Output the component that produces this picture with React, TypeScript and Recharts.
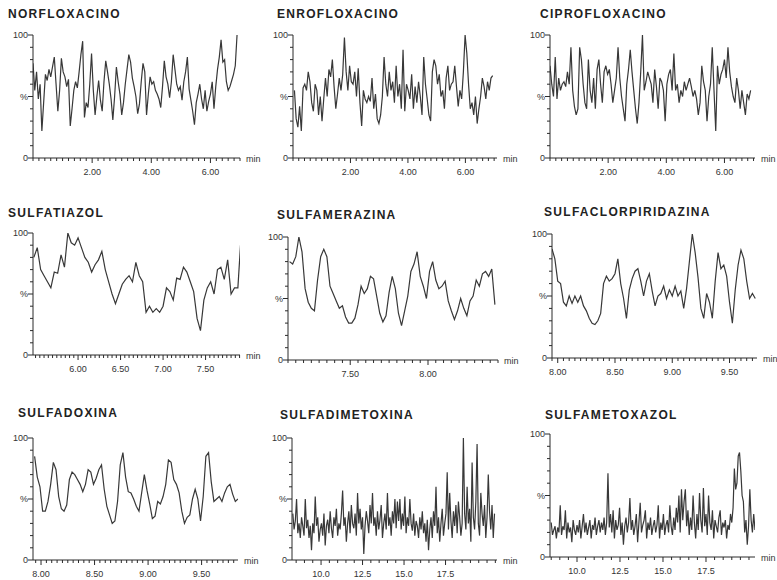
import React from 'react';
import { LineChart, Line, XAxis, YAxis } from 'recharts';

// ---------- data (relative intensity, %) ----------
const norfloxacino = [
  77, 55, 70, 48, 60, 22, 45, 68, 63, 72,
  66, 74, 82, 60, 38, 55, 81, 70, 66, 58,
  64, 26, 40, 55, 62, 57, 70, 84, 95, 33,
  45, 41, 60, 85, 55, 35, 50, 63, 47, 38,
  62, 79, 70, 60, 48, 31, 50, 74, 62, 52,
  35, 45, 60, 72, 84, 78, 65, 58, 50, 36,
  44, 62, 77, 70, 35, 52, 66, 60, 62, 55,
  52, 48, 41, 58, 79, 66, 60, 49, 62, 84,
  72, 60, 55, 58, 47, 62, 70, 82, 56, 47,
  38, 27, 45, 52, 60, 48, 40, 55, 38, 46,
  52, 62, 40, 58, 72, 82, 96, 78, 80, 62,
  55, 58, 63, 68, 75, 100,
];
const enrofloxacino = [
  55, 32, 25, 42, 22, 57, 60, 55, 70, 62,
  45, 38, 60, 55, 35, 50, 30, 48, 65, 50,
  72, 66, 80, 58, 40, 52, 65, 55, 68, 98,
  70, 55, 75, 62, 60, 70, 50, 73, 45, 26,
  55, 48, 45, 50, 46, 65, 40, 52, 32, 28,
  35, 50, 82, 60, 50, 70, 55, 62, 45, 75,
  50, 60, 40, 88, 38, 60, 55, 48, 68, 40,
  58, 45, 62, 50, 35, 82, 60, 48, 35, 30,
  70, 80, 75, 60, 68, 50, 55, 40, 65, 75,
  55, 60, 62, 75, 58, 42, 55, 48, 70, 100,
  85, 60, 40, 45, 35, 50, 28, 40, 50, 65,
  58, 48, 62, 55, 65, 67,
];
const ciprofloxacino = [
  75, 60, 50, 82, 48, 65, 55, 60, 62, 58,
  70, 60, 90, 55, 42, 35, 40, 90, 80, 60,
  45, 40, 80, 55, 45, 65, 40, 72, 80, 60,
  45, 70, 75, 68, 72, 60, 45, 55, 65, 90,
  65, 50, 40, 30, 60, 72, 88, 70, 55, 40,
  28, 45, 70, 100, 55, 62, 70, 65, 60, 45,
  72, 58, 40, 65, 62, 55, 30, 60, 68, 72,
  55, 85, 55, 60, 45, 55, 50, 62, 55, 60,
  65, 58, 50, 55, 48, 35, 45, 75, 62, 55,
  30, 50, 60, 90, 55, 22, 75, 60, 68, 72,
  80, 65, 90, 70, 58, 50, 45, 65, 55, 40,
  55, 45, 35, 52, 48, 55,
];
const sulfatiazol = [
  80, 88, 70, 65, 60, 55, 68, 67, 82, 72,
  100, 92, 90, 96, 88, 80, 76, 68, 74, 78,
  85, 70, 60, 50, 42, 50, 58, 62, 65, 60,
  76, 65, 60, 35, 40, 35, 38, 35, 40, 55,
  52, 45, 63, 62, 72, 68, 60, 52, 30, 20,
  45, 55, 60, 50, 70, 72, 62, 78, 50, 55,
  55, 100,
];
const sulfamerazina = [
  80, 78, 84, 100, 88, 58, 47, 42, 40, 65,
  84, 90, 84, 60, 54, 48, 42, 44, 35, 30,
  30, 34, 45, 60, 54, 58, 68, 66, 52, 38,
  31, 36, 55, 68, 58, 38, 28, 40, 52, 72,
  78, 88, 68, 60, 50, 72, 80, 65, 58, 60,
  64, 48, 40, 33, 40, 50, 42, 36, 48, 52,
  65, 60, 70, 72, 68, 74, 45,
];
const sulfaclorpiridazina = [
  88, 80, 62, 60, 45, 42, 50, 44, 50, 45,
  50, 42, 38, 32, 28, 27, 30, 36, 60, 66,
  62, 64, 68, 80, 60, 48, 32, 55, 64, 70,
  72, 62, 50, 62, 68, 54, 42, 50, 52, 58,
  48, 55, 50, 58, 50, 54, 40, 56, 78, 100,
  85, 65, 40, 32, 52, 45, 32, 62, 85, 72,
  75, 66, 45, 28, 55, 75, 87, 80, 62, 48,
  52, 48,
];
const sulfadoxina = [
  85, 68, 60, 40, 40, 48, 62, 80, 74, 52,
  42, 40, 45, 66, 72, 70, 66, 62, 56, 62,
  74, 72, 62, 67, 74, 78, 58, 44, 37, 30,
  32, 48, 78, 88, 68, 56, 55, 50, 44, 40,
  55, 70, 57, 46, 34, 36, 48, 46, 52, 62,
  82, 80, 66, 62, 55, 40, 30, 35, 37, 50,
  58, 50, 32, 52, 85, 88, 64, 48, 50, 52,
  48, 55, 60, 62, 54, 48, 50,
];
const sulfadimetoxina = [
  38, 25, 32, 50, 22, 30, 18, 35, 28, 20,
  50, 26, 33, 18, 28, 8, 30, 22, 52, 28,
  35, 15, 25, 30, 20, 38, 12, 28, 33, 22,
  40, 26, 18, 35, 28, 42, 20, 30, 25, 38,
  57, 28, 35, 15, 30, 40, 22, 45, 30, 26,
  38, 20, 55, 30, 42, 25, 35, 5, 28, 40,
  32, 22, 45, 30, 55, 28, 35, 20, 40, 25,
  33, 45, 18, 30, 38, 25, 55, 28, 35, 20,
  40, 30, 50, 26, 48, 32, 50, 25, 38, 28,
  52, 22, 35, 28, 50, 30, 24, 38, 20, 32,
  28, 18, 35, 25, 40, 22, 30, 15, 33, 8,
  25, 35, 18, 40, 28, 60, 22, 35, 15, 30,
  42, 20, 30, 38, 72, 25, 55, 32, 18, 40,
  28, 45, 22, 48, 35, 20, 30, 100, 38, 25,
  60, 30, 42, 15, 80, 35, 25, 48, 95, 30,
  20, 55, 38, 28, 45, 18, 35, 70, 40, 25,
  45, 18, 38,
];
const sulfametoxazol = [
  28, 18, 22, 25, 15, 24, 20, 42, 18, 25,
  22, 38, 15, 28, 20, 24, 12, 30, 22, 18,
  26, 20, 30, 15, 25, 35, 20, 28, 18, 24,
  30, 15, 26, 22, 32, 18, 25, 30, 20, 28,
  22, 32, 18, 28, 68, 24, 35, 20, 38, 15,
  30, 22, 26, 40, 18, 28, 10, 25, 32, 20,
  28, 48, 22, 30, 18, 25, 35, 12, 28, 44,
  20, 26, 30, 38, 15, 28, 22, 32, 18, 25,
  30, 20, 26, 42, 15, 28, 22, 35, 18, 26,
  30, 20, 42, 25, 18, 32, 22, 40, 28, 50,
  20, 55, 30, 45, 55, 25, 38, 18, 32, 22,
  50, 28, 15, 35, 22, 52, 30, 20, 56, 25,
  35, 18, 50, 28, 22, 38, 15, 30, 25, 20,
  32, 38, 18, 28, 24, 30, 15, 26, 22, 35,
  28, 40, 72, 55, 60, 82, 85, 70, 50, 45,
  20, 30, 10, 25, 55, 30, 20, 35, 22,
];

// ---------- tick labels ----------
const row1Ticks = [2, 4, 6];
const row1Labels = ['2.00', '4.00', '6.00'];
const tiazolTicks = [6, 6.5, 7, 7.5];
const tiazolLabels = ['6.00', '6.50', '7.00', '7.50'];
const merazinaTicks = [7.5, 8];
const merazinaLabels = ['7.50', '8.00'];
const halfMinTicks = [8, 8.5, 9, 9.5];
const halfMinLabels = ['8.00', '8.50', '9.00', '9.50'];
const longTicks = [10, 12.5, 15, 17.5];
const longLabels = ['10.0', '12.5', '15.0', '17.5'];
const yTicks = [0, 10, 20, 30, 40, 50, 60, 70, 80, 90, 100];
const yLabels: Record<number, string> = { 0: '0', 50: '%', 100: '100' };

const FONT = '"Liberation Sans", Arial, Helvetica, sans-serif';
const INK = '#2a2a2a';

type Spec = {
  title: string;
  tx: number; ty: number;
  ax: number; right: number; top: number; bottom: number;
  domain: [number, number];
  start: number; step: number; values: number[];
  major: number[]; labels: string[]; minor: number;
};

const specs: Spec[] = [
  { title: 'NORFLOXACINO', tx: 8, ty: 14, ax: 33, right: 240, top: 35, bottom: 158, domain: [0, 7.0], start: 0, step: 0.06, values: norfloxacino, major: row1Ticks, labels: row1Labels, minor: 0.2 },
  { title: 'ENROFLOXACINO', tx: 277, ty: 14, ax: 293, right: 497, top: 35, bottom: 158, domain: [0, 7.1], start: 0.05, step: 0.06, values: enrofloxacino, major: row1Ticks, labels: row1Labels, minor: 0.2 },
  { title: 'CIPROFLOXACINO', tx: 540, ty: 14, ax: 550, right: 755, top: 35, bottom: 158, domain: [0, 7.05], start: 0, step: 0.06, values: ciprofloxacino, major: row1Ticks, labels: row1Labels, minor: 0.2 },
  { title: 'SULFATIAZOL', tx: 8, ty: 213, ax: 33, right: 240, top: 233, bottom: 355, domain: [5.47, 7.905], start: 5.48, step: 0.04, values: sulfatiazol, major: tiazolTicks, labels: tiazolLabels, minor: 0.05 },
  { title: 'SULFAMERAZINA', tx: 277, ty: 215, ax: 288, right: 498, top: 237, bottom: 360, domain: [7.1, 8.45], start: 7.11, step: 0.02, values: sulfamerazina, major: merazinaTicks, labels: merazinaLabels, minor: 0.05 },
  { title: 'SULFACLORPIRIDAZINA', tx: 544, ty: 212, ax: 552, right: 757, top: 234, bottom: 358, domain: [7.95, 9.74], start: 7.95, step: 0.025, values: sulfaclorpiridazina, major: halfMinTicks, labels: halfMinLabels, minor: 0.05 },
  { title: 'SULFADOXINA', tx: 18, ty: 413, ax: 33, right: 238, top: 438, bottom: 560, domain: [7.925, 9.84], start: 7.94, step: 0.025, values: sulfadoxina, major: halfMinTicks, labels: halfMinLabels, minor: 0.05 },
  { title: 'SULFADIMETOXINA', tx: 280, ty: 415, ax: 292, right: 497, top: 438, bottom: 560, domain: [8.25, 20.6], start: 8.3, step: 0.075, values: sulfadimetoxina, major: longTicks, labels: longLabels, minor: 0.5 },
  { title: 'SULFAMETOXAZOL', tx: 545, ty: 415, ax: 550, right: 755, top: 434, bottom: 557, domain: [8.43, 20.35], start: 8.5, step: 0.075, values: sulfametoxazol, major: longTicks, labels: longLabels, minor: 0.5 },
];

function buildTicks(domain: [number, number], minor: number): number[] {
  const out: number[] = [];
  let k = Math.ceil(domain[0] / minor - 1e-9);
  while (k * minor <= domain[1] + 1e-9) {
    out.push(+(k * minor).toFixed(4));
    k += 1;
  }
  return out;
}

function makeXTick(major: number[], labels: string[]) {
  return (props: any) => {
    const { x, y, payload } = props;
    const idx = major.findIndex((m) => Math.abs(m - payload.value) < 1e-6);
    const isMajor = idx >= 0;
    return (
      <g>
        <line x1={x} y1={y} x2={x} y2={y + (isMajor ? 5 : 3)} stroke={INK} strokeWidth={1} />
        {isMajor && (
          <text x={x} y={y + 17} textAnchor="middle" fontSize={9} fill="#333" fontFamily={FONT}>
            {labels[idx]}
          </text>
        )}
      </g>
    );
  };
}

const YTick = (props: any) => {
  const { x, y, payload } = props;
  const v = payload.value as number;
  const isMajor = v % 50 === 0;
  const label = yLabels[v];
  return (
    <g>
      <line x1={x} y1={y} x2={x - (isMajor ? 5 : 3)} y2={y} stroke={INK} strokeWidth={1} />
      {label !== undefined && (
        <text x={x - 5} y={y + 3} textAnchor="end" fontSize={9} fill="#333" fontFamily={FONT}>
          {label}
        </text>
      )}
    </g>
  );
};

const YW = 34;
const MT = 6;
const MR = 26;
const XH = 24;

function Panel({ s }: { s: Spec }) {
  const data = s.values.map((v, i) => ({ t: +(s.start + i * s.step).toFixed(4), v }));
  const plotW = s.right - s.ax;
  const plotH = s.bottom - s.top;
  const ticks = buildTicks(s.domain, s.minor);
  return (
    <>
      <div
        style={{
          position: 'absolute', left: s.tx, top: s.ty - 8, fontFamily: FONT, fontWeight: 700,
          fontSize: 12, letterSpacing: 1.3, color: '#222', whiteSpace: 'nowrap', lineHeight: '16px',
        }}
      >
        {s.title}
      </div>
      <div style={{ position: 'absolute', left: s.ax - YW, top: s.top - MT }}>
        <LineChart
          width={YW + plotW + MR}
          height={MT + plotH + XH}
          data={data}
          margin={{ top: MT, right: MR, bottom: 0, left: 0 }}
        >
          <XAxis
            dataKey="t"
            type="number"
            domain={s.domain}
            ticks={ticks}
            interval={0}
            allowDataOverflow
            height={XH}
            tickSize={0}
            tickMargin={0}
            tickLine={false}
            axisLine={{ stroke: INK, strokeWidth: 1 }}
            tick={makeXTick(s.major, s.labels)}
            label={{ value: 'min', position: 'right', offset: 6, dy: -XH / 2 + 1, fontSize: 9, fill: '#333', fontFamily: FONT }}
          />
          <YAxis
            type="number"
            domain={[0, 100]}
            ticks={yTicks}
            interval={0}
            allowDataOverflow
            width={YW}
            tickSize={0}
            tickMargin={0}
            tickLine={false}
            axisLine={{ stroke: INK, strokeWidth: 1 }}
            tick={YTick}
          />
          <Line
            type="linear"
            dataKey="v"
            stroke="#383838"
            strokeWidth={1.2}
            dot={false}
            activeDot={false}
            isAnimationActive={false}
          />
        </LineChart>
      </div>
    </>
  );
}

export default function App() {
  return (
    <div style={{ position: 'absolute', left: 0, top: 0, width: 777, height: 580, background: '#fff', overflow: 'hidden' }}>
      {specs.map((s) => (
        <Panel key={s.title} s={s} />
      ))}
    </div>
  );
}
